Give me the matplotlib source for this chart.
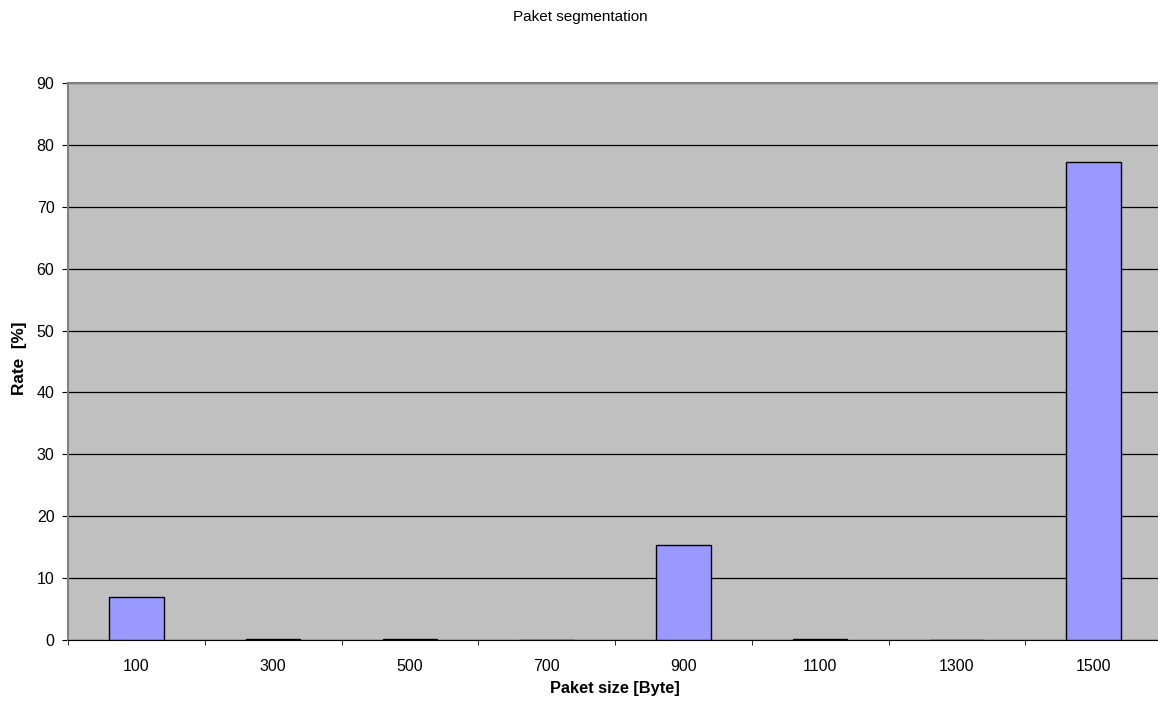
import numpy as np
import matplotlib.pyplot as plt

plt.rcParams['font.family'] = ['Liberation Sans', 'DejaVu Sans']

sizes = ["100", "300", "500", "700", "900", "1100", "1300", "1500"]
rate = [7.0, 0.1, 0.15, 0.0, 15.4, 0.1, 0.0, 77.3]

fig = plt.figure(figsize=(11.58, 7.06), dpi=100)
ax = fig.add_axes([68 / 1158, 1 - 640 / 706, 1094 / 1158, (640 - 83) / 706])
ax.set_facecolor("#c0c0c0")

x = np.arange(len(sizes))
ax.bar(x, rate, width=0.4, color="#9999ff", edgecolor="black", linewidth=1, zorder=3)

ax.set_xlim(-0.5, len(sizes) - 0.5)
ax.set_ylim(0, 90)
ax.set_yticks(range(0, 91, 10))
ax.yaxis.grid(True, color="black", linewidth=0.9, zorder=1)
ax.set_axisbelow(True)

# category labels at centres, tick marks at the boundaries
ax.set_xticks(x)
ax.set_xticklabels(sizes)
ax.tick_params(axis="x", which="major", length=0, pad=14, labelsize=11.5)
ax.set_xticks(np.arange(-0.5, len(sizes), 1), minor=True)
ax.tick_params(axis="x", which="minor", length=3.5, direction="out", color="black")
ax.tick_params(axis="y", length=4.3, direction="out", labelsize=11.5, pad=5.5)

for side in ["top", "left", "right"]:
    ax.spines[side].set_color("#808080")
    ax.spines[side].set_linewidth(1.5)
ax.spines["bottom"].set_color("black")

fig.text(615 / 1158, 1 - 688 / 706, "Paket size [Byte]", ha="center", va="center",
         fontweight="bold", fontsize=11.8)
fig.text(20 / 1158, 1 - 358.5 / 706, "Rate  [%]", ha="center", va="center",
         rotation=90, fontweight="bold", fontsize=12.4)
fig.text(580.7 / 1158, 1 - 17 / 706, "Paket segmentation", ha="center", va="center", fontsize=11)

fig.savefig("out.png", dpi=100)
